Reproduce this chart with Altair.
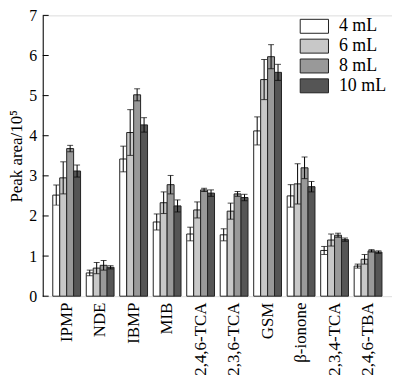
import altair as alt
import pandas as pd

groups = ["IPMP", "NDE", "IBMP", "MIB", "2,4,6-TCA", "2,3,6-TCA", "GSM", "β-ionone", "2,3,4-TCA", "2,4,6-TBA"]
series = ["4 mL", "6 mL", "8 mL", "10 mL"]
v4 = [2.52, 0.58, 3.42, 1.85, 1.55, 1.53, 4.12, 2.50, 1.14, 0.75]
e4 = [0.25, 0.07, 0.32, 0.20, 0.17, 0.15, 0.35, 0.28, 0.10, 0.05]
v6 = [2.95, 0.70, 4.08, 2.33, 2.15, 2.12, 5.40, 2.80, 1.40, 0.92]
e6 = [0.40, 0.14, 0.57, 0.27, 0.20, 0.20, 0.50, 0.50, 0.15, 0.12]
v8 = [3.68, 0.77, 5.02, 2.78, 2.65, 2.55, 5.97, 3.20, 1.52, 1.13]
e8 = [0.08, 0.12, 0.15, 0.23, 0.04, 0.06, 0.30, 0.27, 0.05, 0.03]
v10 = [3.12, 0.72, 4.27, 2.25, 2.57, 2.46, 5.58, 2.73, 1.41, 1.10]
e10 = [0.15, 0.04, 0.18, 0.15, 0.08, 0.08, 0.20, 0.13, 0.04, 0.03]
fills = ["#ffffff", "#c8c8c8", "#999999", "#555555"]
y_ticks = [0, 1, 2, 3, 4, 5, 6, 7]

rows = []
for s, vals, errs in zip(series, [v4, v6, v8, v10], [e4, e6, e8, e10]):
    for g, v, e in zip(groups, vals, errs):
        rows.append({"group": g, "series": s, "value": v, "lo": v - e, "hi": v + e})
df = pd.DataFrame(rows)

FONT = "Liberation Serif"

x_enc = alt.X("group:N", sort=groups, title=None,
              scale=alt.Scale(paddingInner=0.17, paddingOuter=0.3),
              axis=alt.Axis(labelAngle=-90, labelFont=FONT, labelFontSize=17, labelColor="black",
                            ticks=False, domain=False, labelPadding=6))
xo = alt.XOffset("series:N", sort=series, scale=alt.Scale(paddingInner=0, paddingOuter=0))
y_scale = alt.Scale(domain=[0, 7], nice=False)

base = alt.Chart(df)

bars = base.mark_bar(stroke="#222222", strokeWidth=1).encode(
    x=x_enc,
    xOffset=xo,
    y=alt.Y("value:Q", scale=y_scale, title="Peak area/10⁵",
            axis=alt.Axis(values=y_ticks, ticks=False, grid=False, labelFont=FONT, labelFontSize=16,
                          labelColor="black", labelPadding=6, domainColor="black",
                          titleFont=FONT, titleFontSize=17, titleFontWeight="normal",
                          titleColor="black", titlePadding=3)),
    fill=alt.Fill("series:N", sort=series,
                  scale=alt.Scale(domain=series, range=fills),
                  legend=alt.Legend(title=None, orient="none", legendX=263.75, legendY=1,
                                    symbolType="M-1.5,-0.74H1.5V0.74H-1.5Z", symbolSize=361,
                                    symbolStrokeColor="#222222", symbolStrokeWidth=1,
                                    labelFont=FONT, labelFontSize=18, labelColor="black",
                                    labelOffset=14.75, rowPadding=0, padding=0)),
)

err = base.mark_rule(color="black", strokeWidth=1).encode(
    x=alt.X("group:N", sort=groups), xOffset=xo,
    y=alt.Y("lo:Q", scale=y_scale), y2="hi:Q")
cap_lo = base.mark_tick(color="black", thickness=1, size=6).encode(
    x=alt.X("group:N", sort=groups), xOffset=xo, y=alt.Y("lo:Q", scale=y_scale))
cap_hi = base.mark_tick(color="black", thickness=1, size=6).encode(
    x=alt.X("group:N", sort=groups), xOffset=xo, y=alt.Y("hi:Q", scale=y_scale))

tick_df = pd.DataFrame({"t": y_ticks})
yticks = alt.Chart(tick_df).mark_rule(color="black", strokeWidth=1).encode(
    x=alt.value(0), x2=alt.value(6), y=alt.Y("t:Q", scale=y_scale))

chart = alt.layer(bars, err, cap_lo, cap_hi, yticks).properties(
    width=352, height=283,
    autosize=alt.AutoSizeParams(type="none"),
    padding={"left": 35, "top": 6, "right": 0, "bottom": 80},
).configure_view(stroke="black", strokeWidth=1).configure(background="white")

chart.save("out.html", embed_options={"renderer": "svg", "actions": False})
